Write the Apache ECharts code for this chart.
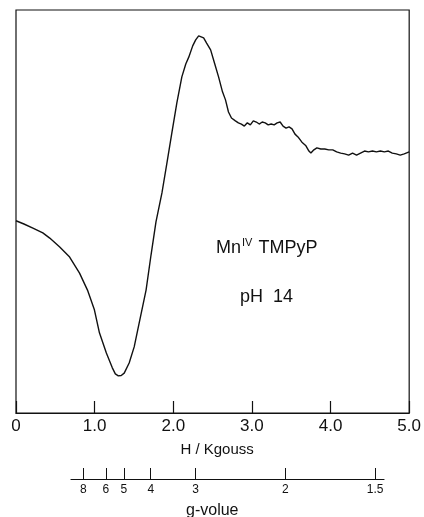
<!DOCTYPE html>
<html>
<head>
<meta charset="utf-8">
<script src="https://cdn.jsdelivr.net/npm/echarts@6/dist/echarts.min.js"></script>
<style>
html,body{margin:0;padding:0;background:#fff;}
#c{width:424px;height:517px;}
</style>
</head>
<body>
<div id="c"></div>
<script>
// Magnetic field, kG
const fieldKG = [0.000,0.101,0.215,0.341,0.429,0.556,0.682,0.808,0.909,0.997,1.061,1.149,1.225,1.263,1.301,1.338,1.376,1.439,1.503,1.566,1.654,1.717,1.780,1.856,1.919,1.982,2.045,2.109,2.159,2.197,2.247,2.285,2.323,2.348,2.386,2.424,2.475,2.525,2.576,2.626,2.664,2.702,2.740,2.790,2.828,2.866,2.904,2.942,2.980,3.018,3.056,3.093,3.131,3.169,3.207,3.245,3.283,3.321,3.359,3.396,3.434,3.472,3.510,3.548,3.586,3.636,3.687,3.725,3.750,3.788,3.826,3.876,3.927,3.977,4.028,4.078,4.129,4.179,4.230,4.280,4.331,4.381,4.432,4.482,4.533,4.583,4.634,4.684,4.735,4.785,4.836,4.886,4.937,5.000];
// EPR derivative signal, arbitrary units
const signal = [47.7,46.9,45.9,44.7,43.4,41.2,38.7,34.7,30.5,25.6,19.9,14.9,11.2,9.7,9.2,9.3,9.9,12.4,16.4,22.3,30.5,39.2,47.4,54.6,62.0,69.5,76.9,83.4,86.6,88.3,91.1,92.6,93.6,93.6,93.1,91.8,90.1,86.8,83.4,79.7,77.7,74.7,73.2,72.5,72.0,71.7,71.2,72.0,71.5,72.5,72.2,71.7,72.2,72.0,71.5,71.7,71.5,72.0,72.2,71.2,70.7,71.0,70.5,69.2,68.5,67.2,66.3,65.0,64.5,65.3,65.8,65.5,65.5,65.3,65.3,64.8,64.5,64.3,64.0,64.5,64.0,64.5,65.0,64.8,65.0,64.8,65.0,64.8,65.0,64.5,64.3,64.0,64.3,64.8];
// g-value scale ticks
const gTicks = [8, 6, 5, 4, 3, 2, 1.5];
const microwaveGHz = 9.52;
const K = 0.71448 * microwaveGHz; // H(kG) = K / g

const font = 'Liberation Sans, Arial, sans-serif';
const chart = echarts.init(document.getElementById('c'), null, {renderer:'canvas'});
chart.setOption({
  animation: false,
  backgroundColor: '#fff',
  grid: [
    {left:16, top:10, width:396, height:403, show:true, borderColor:'#111', borderWidth:1.2, backgroundColor:'transparent'},
    {left:71, top:460, width:313, height:19, show:false}
  ],
  xAxis: [
    {gridIndex:0, type:'value', min:0, max:5, interval:1,
     axisLine:{show:true, lineStyle:{color:'#111', width:1.2}},
     axisTick:{show:true, inside:true, length:12, lineStyle:{color:'#111', width:1.2}},
     splitLine:{show:false},
     axisLabel:{color:'#111', fontFamily:font, fontSize:17, margin:5,
       formatter: v => v === 0 ? '0' : v.toFixed(1)},
     name:'H / Kgouss', nameLocation:'middle', nameGap:29,
     nameTextStyle:{color:'#111', fontFamily:font, fontSize:15, padding:[0,0,0,9]}
    },
    {gridIndex:1, type:'value', min:0.694, max:4.646,
     axisLine:{show:true, lineStyle:{color:'#111', width:1.2}},
     axisTick:{show:true, inside:true, length:11, lineStyle:{color:'#111', width:1},
       customValues: gTicks.map(g => K / g)},
     splitLine:{show:false},
     axisLabel:{color:'#111', fontFamily:font, fontSize:12, margin:5,
       customValues: gTicks.map(g => K / g),
       formatter: v => String(Math.round(K / v * 10) / 10)}
    }
  ],
  yAxis: [
    {gridIndex:0, type:'value', min:0, max:100, show:false},
    {gridIndex:1, type:'value', min:0, max:1, show:false}
  ],
  graphic: [
    {type:'text', left:216, top:237, style:{
      text:'{a|Mn}{s|IV}{a| TMPyP}', fill:'#111',
      rich:{a:{fontFamily:font, fontSize:18, fill:'#111', verticalAlign:'bottom'},
            s:{fontFamily:font, fontSize:11, fill:'#111', verticalAlign:'top', padding:[0,1,9,1]}}
    }},
    {type:'text', left:240, top:288, style:{text:'pH  14', fill:'#111', font:'18px ' + font}},
    {type:'text', left:186, top:503, style:{text:'g-volue', fill:'#111', font:'16px ' + font}}
  ],
  series: [
    {type:'line', xAxisIndex:0, yAxisIndex:0, showSymbol:false, smooth:false,
     lineStyle:{color:'#111', width:1.4},
     data: fieldKG.map((h, i) => [h, signal[i]])},
    {type:'line', xAxisIndex:1, yAxisIndex:1, showSymbol:false, data:[]}
  ]
});
</script>
</body>
</html>
